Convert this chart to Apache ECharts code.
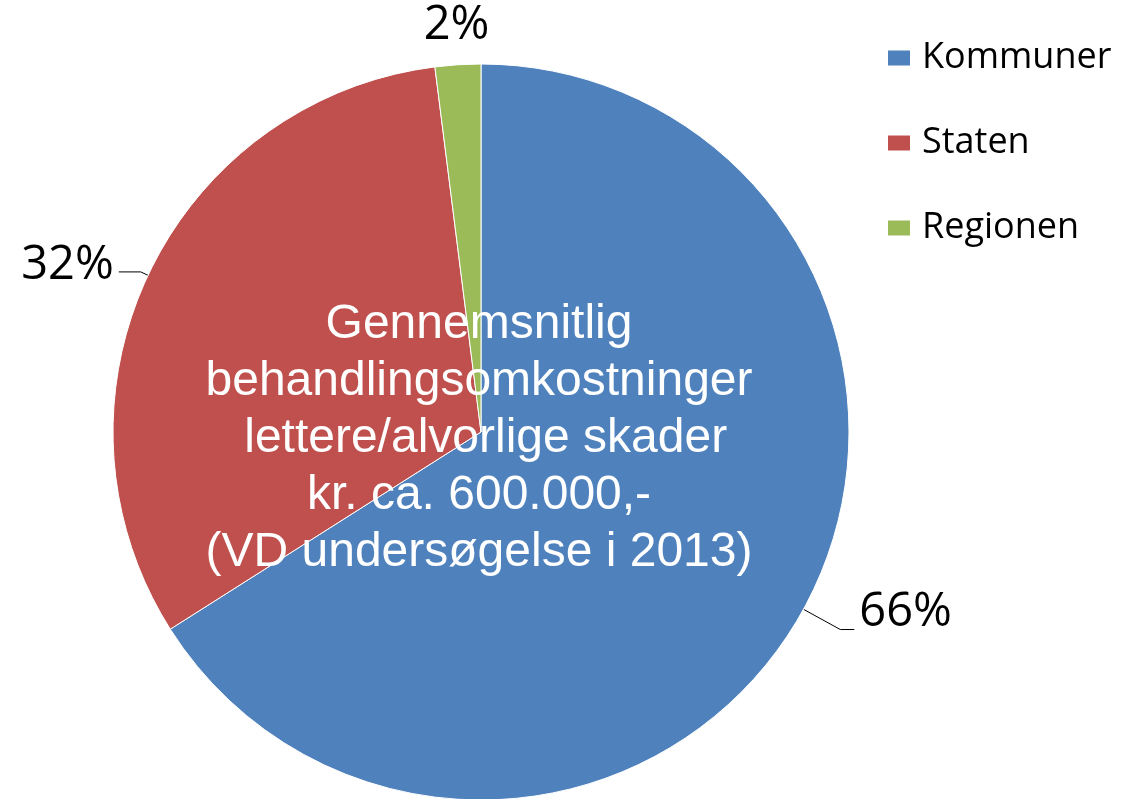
<!DOCTYPE html>
<html>
<head>
<meta charset="utf-8">
<script src="https://cdn.jsdelivr.net/npm/echarts@6/dist/echarts.min.js"></script>
<style>
  html, body { margin: 0; padding: 0; background: #fff; }
  #main { width: 1140px; height: 799px; }
</style>
</head>
<body>
<div id="main"></div>
<script>
var categories = ['Kommuner', 'Staten', 'Regionen'];
var shares = [66, 32, 2];
var colors = ['#4F81BD', '#C0504D', '#9BBB59'];
var centerText = [
  'Gennemsnitlig',
  'behandlingsomkostninger',
  ' lettere/alvorlige skader',
  'kr. ca. 600.000,-',
  '(VD undersøgelse i 2013)'
];

var dom = document.getElementById('main');
var myChart = echarts.init(dom);

// per-slice leader tweaks; the blank second line lifts the text above the leader end (Excel look)
var labelTweaks = [
  { labelLine: { length: 42, length2: 14 }, fmt: '{v|{d}%}\n{s1| }' },
  { labelLine: { length: 8, length2: 22 }, fmt: '{v|{d}%}\n{s2| }' },
  { labelLine: { show: false, length: 39, length2: -39 }, fmt: '{v|{d}%}' }
];

var option = {
  backgroundColor: '#ffffff',
  animation: false,
  color: colors,
  legend: {
    orient: 'vertical',
    left: 881,
    top: 33,
    itemWidth: 24,
    itemHeight: 17,
    itemGap: 45,
    icon: 'rect',
    data: categories,
    textStyle: {
      fontFamily: 'Open Sans',
      fontSize: 36,
      lineHeight: 40,
      padding: [0, 0, 0, 6],
      color: '#000'
    }
  },
  series: [{
    type: 'pie',
    center: [481, 432],
    radius: 368,
    startAngle: 90,
    clockwise: true,
    itemStyle: { borderColor: '#fff', borderWidth: 1 },
    label: {
      show: true,
      position: 'outside',
      color: '#000',
      rich: {
        v: { fontFamily: 'Open Sans', fontSize: 47, lineHeight: 56, color: '#000' },
        s1: { fontSize: 10, lineHeight: 34 },
        s2: { fontSize: 10, lineHeight: 12 }
      }
    },
    labelLine: {
      show: true,
      length: 30,
      length2: 12,
      lineStyle: { color: '#000', width: 1 }
    },
    emphasis: { disabled: true },
    data: categories.map(function (name, i) {
      return {
        name: name,
        value: shares[i],
        label: { formatter: labelTweaks[i].fmt },
        labelLine: labelTweaks[i].labelLine
      };
    })
  }],
  graphic: [{
    type: 'text',
    z: 100,
    x: 479,
    y: 439,
    style: {
      text: centerText.join('\n'),
      fill: '#ffffff',
      fontFamily: 'Liberation Sans',
      fontSize: 48,
      lineHeight: 57,
      align: 'center',
      verticalAlign: 'middle'
    }
  }]
};

myChart.setOption(option);
window.onresize = function () { myChart.resize(); };
</script>
</body>
</html>
